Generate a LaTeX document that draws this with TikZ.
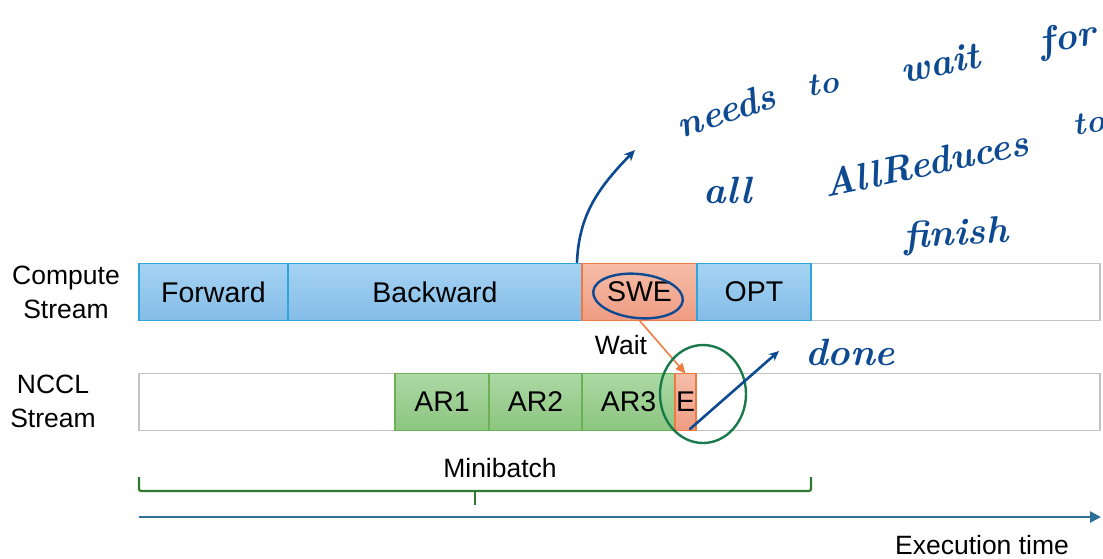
\documentclass[tikz,border=0pt]{standalone}
\usepackage{fontspec}
\newfontfamily\diagfont{Liberation Sans}
\usetikzlibrary{arrows.meta}

\definecolor{bluetop}{HTML}{A5D3F4}
\definecolor{bluebot}{HTML}{84BCE6}
\definecolor{blueedge}{HTML}{2EA5DC}
\definecolor{orangetop}{HTML}{F6BDA8}
\definecolor{orangebot}{HTML}{EF9C82}
\definecolor{orangeedge}{HTML}{EC7A44}
\definecolor{greentop}{HTML}{ACD8A4}
\definecolor{greenbot}{HTML}{8CC580}
\definecolor{greenedge}{HTML}{69B153}
\definecolor{laneedge}{HTML}{C2C2C2}
\definecolor{axisblue}{HTML}{2E6F96}
\definecolor{bracegreen}{HTML}{2F7A30}
\definecolor{ink}{HTML}{0D4A92}
\definecolor{inkgreen}{HTML}{1B7A4C}
\definecolor{waitorange}{HTML}{EE7E40}

\begin{document}
\begin{tikzpicture}[x=1pt, y=-1pt,
  font=\diagfont\fontsize{28.5}{32}\selectfont,
  lane/.style={draw=laneedge, fill=white, line width=1.6pt, inner sep=0pt,
    outer sep=0pt, minimum height=57pt, anchor=north west},
  seg/.style={line width=1.4pt, inner sep=0pt, outer sep=0pt,
    minimum height=57pt, anchor=north west},
  blueseg/.style={seg, draw=blueedge, top color=bluetop, bottom color=bluebot},
  orangeseg/.style={seg, draw=orangeedge, top color=orangetop, bottom color=orangebot},
  greenseg/.style={seg, draw=greenedge, top color=greentop, bottom color=greenbot},
  rowlabel/.style={align=center, font=\diagfont\fontsize{26.5}{34}\selectfont},
  caption/.style={font=\diagfont\fontsize{26.5}{30}\selectfont},
  hand/.style={text=ink, font=\bfseries\itshape\fontsize{38}{40}\selectfont, inner sep=0pt},
  handsmall/.style={hand, font=\bfseries\itshape\fontsize{32}{34}\selectfont},
  handline/.style={draw=ink, line width=2.6pt, line cap=round, line join=round},
]
\useasboundingbox (0,0) rectangle (1103,558);

% stream lanes
\node[lane, minimum width=961pt] (clane) at (139,263.5) {};
\node[lane, minimum width=961pt] (nlane) at (139,373.5) {};

% compute stream
\node[blueseg, minimum width=149pt] (fwd) at (139,263.5) {Forward};
\node[blueseg, minimum width=294pt] (bwd) at (288,263.5) {Backward};
\node[orangeseg, minimum width=115pt] (swe) at (582,263.5) {SWE};
\node[blueseg, minimum width=114pt] (opt) at (697,263.5) {OPT};

% NCCL stream
\node[greenseg, minimum width=94pt] (ar1) at (395,373.5) {AR1};
\node[greenseg, minimum width=93pt] (ar2) at (489,373.5) {AR2};
\node[greenseg, minimum width=93pt] (ar3) at (582,373.5) {AR3};
\node[orangeseg, minimum width=21pt] (e) at (675,373.5) {E};

% row labels
\node[rowlabel] (clabel) at (66,292) {Compute\\Stream};
\node[rowlabel] (nlabel) at (53,401) {NCCL\\Stream};

% wait dependency
\draw[draw=waitorange, line width=1.6pt,
  -{Triangle[length=10pt,width=9pt]}] (swe.south) -- (e.north);
\node[caption] (wait) at (621,345) {Wait};

% minibatch brace
\coordinate (bl) at (139,477);
\coordinate (br) at (811,477);
\coordinate (bm) at (475,505);
\draw[bracegreen, line width=2.2pt, rounded corners=2pt]
  (bl) -- (139,491) -- (811,491) -- (br);
\draw[bracegreen, line width=2.2pt] (475,491) -- (bm);
\node[caption] (mb) at (500,468) {Minibatch};

% time axis
\coordinate (t0) at (139,517);
\coordinate (t1) at (1101,517);
\draw[axisblue, line width=2.6pt, -{Triangle[length=11pt,width=11pt]}] (t0) -- (t1);
\node[caption, inner sep=0pt, anchor=base] (exec) at (982,554) {Execution time};

% handwritten notes
\node[hand, rotate=18] (w1) at (726,110) {needs};
\node[handsmall, rotate=8] (w2) at (823,84) {to};
\node[hand, rotate=12] (w3) at (940,63) {wait};
\node[hand, rotate=10] (w4) at (1068,40) {for};
\node[hand] (w5) at (728,190) {all};
\node[hand, rotate=12] (w6) at (926,163) {AllReduces};
\node[handsmall, rotate=8] (w7) at (1089,123) {to};
\node[hand, rotate=3] (w8) at (956,236) {finish};
\node[hand] (done) at (850,352) {done};

% pointer from the compute stream to the note
\coordinate (p0) at (577,262);
\coordinate (p1) at (635,150);
\draw[handline, -{Stealth[open, length=11pt, width=10pt]}]
  (p0) .. controls (579,215) and (598,188) .. (p1);

% marks around SWE and E
\draw[ink, line width=2.4pt, rotate around={-6:(638,296)}]
  (638,296) ellipse [x radius=45pt, y radius=22pt];
\draw[inkgreen, line width=2.4pt] (703,394) ellipse [x radius=43pt, y radius=49pt];

% pointer from E to the "done" note
\coordinate (d0) at (690,429);
\coordinate (d1) at (779,351);
\draw[handline, -{Stealth[open, length=10pt, width=9pt]}] (d0) -- (d1);
\end{tikzpicture}
\end{document}
